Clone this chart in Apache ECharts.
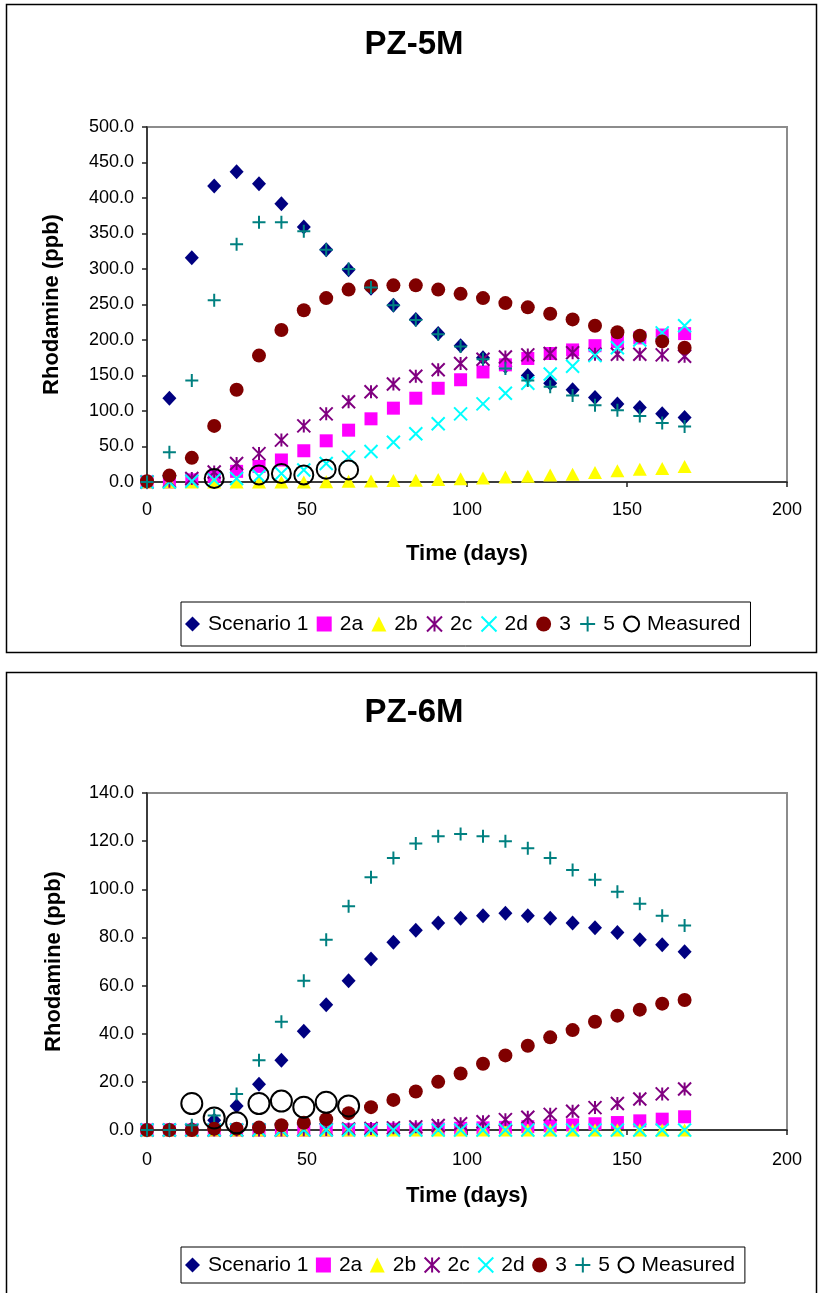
<!DOCTYPE html>
<html>
<head>
<meta charset="utf-8">
<script src="https://cdn.jsdelivr.net/npm/echarts@6.0.0/dist/echarts.min.js"></script>
<style>
  html, body { margin: 0; padding: 0; background: #fff; overflow: hidden; }
  #c { width: 818px; height: 1293px; }
</style>
</head>
<body>
<div id="c"></div>
<script>
// Sampling days shared by all model scenarios
const days = [0, 7, 14, 21, 28, 35, 42, 49, 56, 63, 70, 77, 84, 91, 98, 105, 112, 119, 126, 133, 140, 147, 154, 161, 168];

// PZ-5M rhodamine concentrations (ppb)
const pz5_s1  = [0, 118, 316, 417, 437, 420, 392, 359, 327, 299, 273, 249, 229, 209, 192, 175, 163, 150, 139, 130, 119, 110, 105, 96, 91];
const pz5_2a  = [0, 0, 3, 8, 15, 22, 31, 44, 58, 73, 89, 104, 118, 132, 144, 155, 165, 174, 181, 186, 192, 198, 203, 207, 209];
const pz5_2b  = [0, 0, 0, 0, 0, 0, 0, 0, 0.5, 1, 1.5, 2, 2.5, 3.5, 4.5, 5.5, 7, 8, 10, 11, 13.5, 16, 18, 19, 22];
const pz5_2c  = [0, 1, 5, 14, 26, 40, 59, 79, 96, 113, 127, 138, 149, 158, 167, 173, 176, 179, 181, 182, 180, 180, 180, 179, 177];
const pz5_2d  = [0, 0, 1, 3, 5, 8, 12, 17, 26, 35, 43, 56, 68, 82, 96, 110, 125, 139, 152, 163, 178, 189, 200, 210, 220];
const pz5_s3  = [1, 9, 34, 79, 130, 178, 214, 242, 259, 271, 276, 277, 277, 271, 265, 259, 252, 246, 237, 229, 220, 211, 206, 198, 189];
const pz5_s5  = [0, 42, 143, 256, 335, 366, 366, 353, 327, 300, 274, 249, 228, 208, 191, 173, 160, 143, 134, 122, 108, 101, 93, 83, 78];
const pz5_measDays = [21, 35, 42, 49, 56, 63];
const pz5_meas     = [5, 10, 12, 10, 18, 17];

// PZ-6M rhodamine concentrations (ppb)
const pz6_s1  = [0, 0, 0.5, 4, 10, 19, 29, 41, 52, 62, 71, 78, 83, 86, 88, 89, 90, 89, 88, 86, 84, 82, 79, 77, 74];
const pz6_2a  = [0, 0, 0, 0, 0, 0, 0, 0, 0, 0.1, 0.2, 0.3, 0.4, 0.5, 0.7, 0.9, 1.1, 1.4, 1.7, 2.1, 2.6, 3.1, 3.8, 4.5, 5.5];
const pz6_2b  = [0, 0, 0, 0, 0, 0, 0, 0, 0, 0, 0, 0, 0, 0, 0, 0, 0, 0, 0, 0, 0, 0, 0, 0, 0];
const pz6_2c  = [0, 0, 0, 0, 0, 0, 0, 0.1, 0.2, 0.4, 0.6, 0.9, 1.3, 1.9, 2.6, 3.4, 4.3, 5.3, 6.5, 7.8, 9.3, 11, 12.9, 15, 17];
const pz6_2d  = [0, 0, 0, 0, 0, 0, 0, 0, 0, 0, 0, 0, 0, 0, 0, 0, 0, 0, 0, 0, 0, 0, 0, 0, 0];
const pz6_s3  = [0, 0, 0, 0.5, 0.5, 1, 2, 3, 4.5, 7, 9.5, 12.5, 16, 20, 23.5, 27.5, 31, 35, 38.5, 41.5, 45, 47.5, 50, 52.5, 54];
const pz6_s5  = [0, 0, 2, 6, 15, 29, 45, 62, 79, 93, 105, 113, 119, 122, 123, 122, 120, 117, 113, 108, 104, 99, 94, 89, 85];
const pz6_measDays = [14, 21, 28, 35, 42, 49, 56, 63];
const pz6_meas     = [11, 5, 3, 11, 12, 9.5, 11.5, 10];

// Axis ticks
const xTicks = { min: 0, max: 200, interval: 50 };
const y5Ticks = { min: 0, max: 500, interval: 50 };
const y6Ticks = { min: 0, max: 140, interval: 20 };

const seriesNames = ['Scenario 1', '2a', '2b', '2c', '2d', '3', '5', 'Measured'];

const FONT = '"Liberation Sans", Arial, Helvetica, sans-serif';
const NONE = 'rgba(0,0,0,0)';

// Marker appearance per scenario
const markerStyle = {
  'Scenario 1': { symbol: 'diamond', symbolSize: [14, 15], itemStyle: { color: '#000080', opacity: 1 } },
  '2a':         { symbol: 'rect', symbolSize: 13, itemStyle: { color: '#FF00FF', opacity: 1 } },
  '2b':         { symbol: 'triangle', symbolSize: [14, 13], itemStyle: { color: '#FFFF00', opacity: 1 } },
  '2c':         { symbol: 'path://M0,0L10,10M10,0L0,10M5,0L5,10', symbolSize: 13,
                  itemStyle: { color: NONE, borderColor: '#800080', borderWidth: 2, opacity: 1 } },
  '2d':         { symbol: 'path://M0,0L10,10M10,0L0,10', symbolSize: 13,
                  itemStyle: { color: NONE, borderColor: '#00FFFF', borderWidth: 2, opacity: 1 } },
  '3':          { symbol: 'circle', symbolSize: 14, itemStyle: { color: '#800000', opacity: 1 } },
  '5':          { symbol: 'path://M5,0L5,10M0,5L10,5', symbolSize: 13,
                  itemStyle: { color: NONE, borderColor: '#008080', borderWidth: 2, opacity: 1 } },
  'Measured':   { symbol: 'circle', symbolSize: 19,
                  itemStyle: { color: NONE, borderColor: '#000000', borderWidth: 2, opacity: 1 } }
};

function pairs(xs, ys) {
  return xs.map((x, i) => [x, ys[i]]);
}

function makeSeries(gridIdx, valueSets, measDays, measVals, measSize) {
  const list = [];
  seriesNames.forEach((name, k) => {
    const isMeas = name === 'Measured';
    const data = isMeas ? pairs(measDays, measVals) : pairs(days, valueSets[k]);
    const s = Object.assign({
      type: 'scatter',
      name: name,
      xAxisIndex: gridIdx,
      yAxisIndex: gridIdx,
      data: data,
      z: 2 + k * 0.01
    }, markerStyle[name]);
    if (isMeas) s.symbolSize = measSize;
    list.push(s);
  });
  return list;
}

function xAxis(gridIdx, nameGap, labelMargin) {
  return {
    gridIndex: gridIdx, type: 'value',
    min: xTicks.min, max: xTicks.max, interval: xTicks.interval,
    name: 'Time (days)', nameLocation: 'middle', nameGap: nameGap,
    nameTextStyle: { fontFamily: FONT, fontWeight: 'bold', fontSize: 22, color: '#000' },
    axisLine: { onZero: false, lineStyle: { color: '#222', width: 1.5 } },
    axisTick: { show: true, inside: false, length: 5, lineStyle: { color: '#222', width: 1.5 } },
    axisLabel: { margin: labelMargin, fontFamily: FONT, fontSize: 18, color: '#000' },
    splitLine: { show: false }
  };
}

function yAxis(gridIdx, ticks, nameGap) {
  return {
    gridIndex: gridIdx, type: 'value',
    min: ticks.min, max: ticks.max, interval: ticks.interval,
    name: 'Rhodamine (ppb)', nameLocation: 'middle', nameGap: nameGap, nameRotate: 90,
    nameTextStyle: { fontFamily: FONT, fontWeight: 'bold', fontSize: 22, color: '#000' },
    axisLine: { show: true, onZero: false, lineStyle: { color: '#222', width: 1.5 } },
    axisTick: { show: true, inside: false, length: 5, lineStyle: { color: '#222', width: 1.5 } },
    axisLabel: { margin: 13, fontFamily: FONT, fontSize: 18, color: '#000',
                 formatter: v => v.toFixed(1) },
    splitLine: { show: false }
  };
}

function legend(top, padV, gap) {
  return {
    left: 181, top: top, orient: 'horizontal',
    padding: [padV, 10, padV, 4], itemGap: gap,
    itemWidth: 15, itemHeight: 15,
    borderColor: '#000', borderWidth: 1, backgroundColor: '#fff',
    formatter: name => '{t|' + name + '}',
    textStyle: {
      fontFamily: FONT, fontSize: 21, color: '#000', lineHeight: 22,
      rich: { t: { fontFamily: FONT, fontSize: 21, color: '#000', lineHeight: 22, padding: [0, 0, 0, 3] } }
    },
    data: seriesNames.slice()
  };
}

function titleText(y, text) {
  return {
    type: 'text', x: 414, y: y, z: 10,
    style: { text: text, fill: '#000', font: 'bold 33px ' + FONT,
             textAlign: 'center', textVerticalAlign: 'middle' }
  };
}

const chart = echarts.init(document.getElementById('c'), null, { renderer: 'canvas' });

chart.setOption({
  animation: false,
  backgroundColor: '#fff',
  grid: [
    { left: 147, top: 127, width: 640, height: 355, show: true, backgroundColor: '#fff',
      borderColor: '#8c8c8c', borderWidth: 2 },
    { left: 147, top: 793, width: 640, height: 337, show: true, backgroundColor: '#fff',
      borderColor: '#8c8c8c', borderWidth: 2 }
  ],
  xAxis: [ xAxis(0, 61, 19), xAxis(1, 55, 21) ],
  yAxis: [ yAxis(0, y5Ticks, 84), yAxis(1, y6Ticks, 82) ],
  legend: [ legend(602, 11, 8.3), legend(1247, 7, 7.5) ],
  graphic: [
    { type: 'rect', z: 0, silent: true,
      shape: { x: 6.5, y: 4.5, width: 810, height: 648 },
      style: { fill: NONE, stroke: '#000', lineWidth: 1.5 } },
    { type: 'rect', z: 0, silent: true,
      shape: { x: 6.5, y: 672.5, width: 810, height: 640 },
      style: { fill: NONE, stroke: '#000', lineWidth: 1.5 } },
    titleText(45, 'PZ-5M'),
    titleText(713, 'PZ-6M')
  ],
  series: [].concat(
    makeSeries(0, [pz5_s1, pz5_2a, pz5_2b, pz5_2c, pz5_2d, pz5_s3, pz5_s5], pz5_measDays, pz5_meas, 19),
    makeSeries(1, [pz6_s1, pz6_2a, pz6_2b, pz6_2c, pz6_2d, pz6_s3, pz6_s5], pz6_measDays, pz6_meas, 21)
  )
});
</script>
</body>
</html>
